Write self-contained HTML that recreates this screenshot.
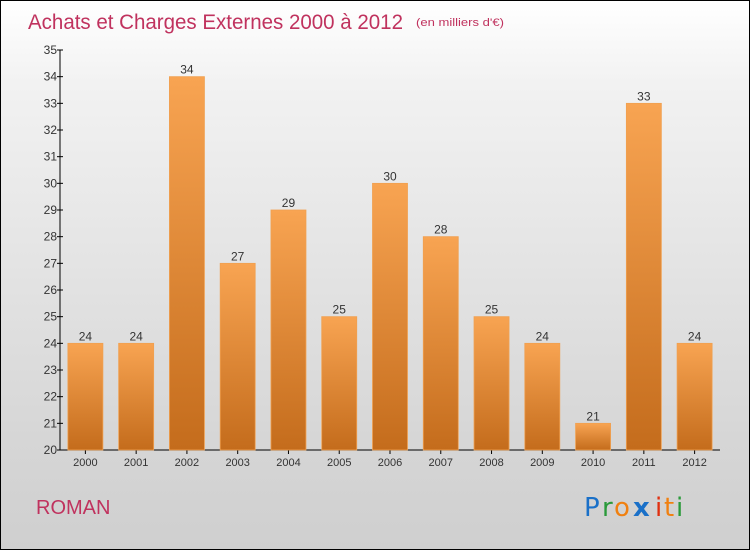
<!DOCTYPE html>
<html><head><meta charset="utf-8"><style>
body{margin:0}
#c{width:750px;height:550px;position:relative;box-sizing:border-box;border:1px solid #000;background:linear-gradient(#fff,#f2f2f2 15%,#d6d6d6 80%,#cfcfcf);font-family:"Liberation Sans",sans-serif;overflow:hidden}
</style></head><body>
<div id="c">
<svg width="750" height="550" style="position:absolute;left:-1px;top:-1px">
<defs><linearGradient id="g" x1="0" y1="0" x2="0" y2="1"><stop offset="0" stop-color="#f8a452"/><stop offset="1" stop-color="#c46c1c"/></linearGradient></defs>
<text x="28" y="29" font-size="21" fill="#c0325e" textLength="375" lengthAdjust="spacingAndGlyphs">Achats et Charges Externes 2000 à 2012</text>
<text x="416" y="26" font-size="11" fill="#c0325e" textLength="88" lengthAdjust="spacingAndGlyphs">(en milliers d'€)</text>
<g id="ax"></g><g id="bars"></g>
<text x="36" y="514" font-size="20" fill="#c0325e">ROMAN</text>
<g font-size="26" font-family="'DejaVu Sans',sans-serif">
<text x="584" y="516" fill="#1a70c8">P</text><text x="602" y="516" fill="#2a9a3a">r</text><text x="614" y="516" fill="#f08010">o</text><text x="633" y="516" fill="#1a70c8" font-weight="bold">x</text><text x="655" y="516" fill="#e03010">i</text><text x="664" y="516" fill="#f08010">t</text><text x="676" y="516" fill="#2a9a3a">i</text></g>
</svg></div>
<script>
const categories=["2000","2001","2002","2003","2004","2005","2006","2007","2008","2009","2010","2011","2012"];
const values=[24,24,34,27,29,25,30,28,25,24,21,33,24];
const yTicks=[20,21,22,23,24,25,26,27,28,29,30,31,32,33,34,35];
const NS="http://www.w3.org/2000/svg";
const x0=60,x1=720,yb=450,yt=50,vmin=20,vmax=35;
const y=v=>yb-(v-vmin)*(yb-yt)/(vmax-vmin);
const step=(x1-x0)/categories.length;
const xc=i=>x0+step*(i+0.5);
function mk(t,a,p){const e=document.createElementNS(NS,t);for(const k in a)e.setAttribute(k,a[k]);p.appendChild(e);return e;}
const ax=document.getElementById('ax'),bars=document.getElementById('bars');
const yl=mk('line',{x1:x0,x2:x0,y1:yt,y2:yb,stroke:'#000'},ax);


const xl=mk('line',{x1:x0,x2:x1,y1:yb,y2:yb,stroke:'#000'},ax);


yTicks.forEach(v=>{
 mk('line',{x1:x0-3,x2:x0+3,y1:y(v),y2:y(v),stroke:'#000'},ax);
 const t=mk('text',{x:x0-3,y:y(v)+4,'text-anchor':'end','font-size':12,fill:'#333'},ax);t.textContent=v;
 
 
});
categories.forEach((c,i)=>{
 mk('line',{x1:xc(i),x2:xc(i),y1:yb,y2:yb+4,stroke:'#000'},ax);
 const t=mk('text',{x:xc(i),y:yb+16,'text-anchor':'middle','font-size':11,fill:'#333'},ax);t.textContent=c;
 
 
 const r=mk('rect',{x:xc(i)-17.5,y:y(values[i]),width:35,height:yb-y(values[i]),fill:'url(#g)',stroke:'#f0a050','stroke-width':0.8},bars);
 
 
 const l=mk('text',{x:xc(i),y:y(values[i])-3,'text-anchor':'middle','font-size':12,fill:'#333'},bars);l.textContent=values[i];
 
 
});
</script>
</body></html>
